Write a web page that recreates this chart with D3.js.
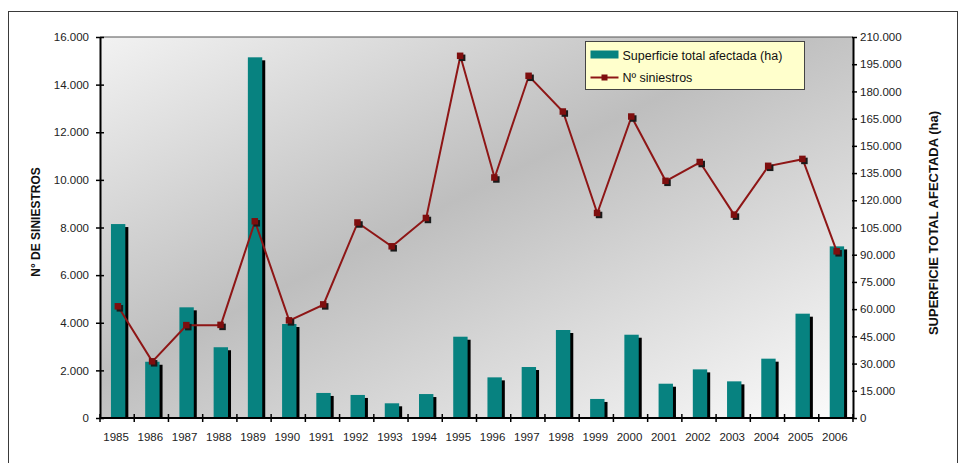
<!DOCTYPE html>
<html>
<head>
<meta charset="utf-8">
<script src="https://cdn.jsdelivr.net/npm/d3@7"></script>
<style>
  body { margin: 0; background: #fff; }
  text { font-family: "Liberation Sans", Arial, sans-serif; }
</style>
</head>
<body>
<svg id="chart" width="970" height="463"></svg>
<script>
// data
const years = ["1985", "1986", "1987", "1988", "1989", "1990", "1991", "1992", "1993", "1994", "1995",
    "1996", "1997", "1998", "1999", "2000", "2001", "2002", "2003", "2004", "2005", "2006"];
// superficie total afectada (ha) -> right axis, bars
const superficie = [106900, 31000, 61000, 39000, 198800, 51800, 13800, 12700, 8100, 13200, 44800,
    22400, 28100, 48500, 10500, 45900, 18900, 26800, 20200, 32700, 57500, 94600];
// nº siniestros -> left axis, line
const siniestros = [4680, 2370, 3890, 3900, 8250, 4090, 4760, 8200, 7200, 8390, 15200,
    10090, 14360, 12860, 8600, 12650, 9950, 10740, 8530, 10580, 10870, 6990];
const leftTicks = [0, 2000, 4000, 6000, 8000, 10000, 12000, 14000, 16000];
const rightTicks = [0, 15000, 30000, 45000, 60000, 75000, 90000, 105000, 120000, 135000,
    150000, 165000, 180000, 195000, 210000];

const svg = d3.select("#chart");
const pLeft = 100, pRight = 853, pTop = 37, pBottom = 418;

const loc = d3.formatLocale({ decimal: ",", thousands: ".", grouping: [3], currency: ["", ""] });
const fmt = loc.format(",d");

const x = d3.scaleBand().domain(years).range([pLeft, pRight]).padding(0);
const yL = d3.scaleLinear().domain([0, 16000]).range([pBottom, pTop]);
const yR = d3.scaleLinear().domain([0, 210000]).range([pBottom, pTop]);

// background gradient of the plot area
const defs = svg.append("defs");
const grad = defs.append("linearGradient").attr("id", "bg")
    .attr("x1", 0).attr("y1", 0).attr("x2", 1).attr("y2", 1);
grad.append("stop").attr("offset", 0).attr("stop-color", "#f2f2f2");
grad.append("stop").attr("offset", 0.45).attr("stop-color", "#bebebe");
grad.append("stop").attr("offset", 1).attr("stop-color", "#fcfcfc");

// outer frame
svg.append("rect").attr("x", 8.5).attr("y", 11.5).attr("width", 949).attr("height", 480)
    .attr("fill", "#fff").attr("stroke", "#3a3a3a").attr("stroke-width", 1);

svg.append("rect").attr("x", pLeft).attr("y", pTop).attr("width", pRight - pLeft).attr("height", pBottom - pTop)
    .attr("fill", "url(#bg)");
svg.append("line").attr("x1", pLeft).attr("x2", pRight).attr("y1", pTop).attr("y2", pTop)
    .attr("stroke", "#555").attr("stroke-width", 1.2);

// bars with black shadow
const bw = x.bandwidth() * 0.42;
const bars = svg.append("g");
bars.selectAll("rect.sh").data(years).enter().append("rect")
    .attr("class", "sh")
    .attr("x", (d, i) => x(d) + x.bandwidth() * 0.32 + 3)
    .attr("y", (d, i) => yR(superficie[i]) + 3)
    .attr("width", bw)
    .attr("height", (d, i) => pBottom - yR(superficie[i]) - 3)
    .attr("fill", "#000");
bars.selectAll("rect.bar").data(years).enter().append("rect")
    .attr("class", "bar")
    .attr("x", (d, i) => x(d) + x.bandwidth() * 0.32)
    .attr("y", (d, i) => yR(superficie[i]))
    .attr("width", bw)
    .attr("height", (d, i) => pBottom - yR(superficie[i]))
    .attr("fill", "#078280");

// axes
const axisL = d3.axisLeft(yL).tickValues(leftTicks).tickFormat(fmt).tickSizeInner(4).tickSizeOuter(0).tickPadding(7);
const gL = svg.append("g").attr("transform", `translate(${pLeft},0)`).call(axisL);
const axisR = d3.axisRight(yR).tickValues(rightTicks).tickFormat(fmt).tickSizeInner(4).tickSizeOuter(0).tickPadding(3);
const gR = svg.append("g").attr("transform", `translate(${pRight},0)`).call(axisR);
[gL, gR].forEach(g => {
    g.select(".domain").attr("stroke", "#000").attr("stroke-width", 2);
    g.selectAll(".tick line").attr("stroke", "#000").attr("stroke-width", 1.5);
    g.selectAll(".tick text").attr("font-size", 11.5).attr("fill", "#222")
        .style("font-family", "'Liberation Sans', Arial, sans-serif");
});
gL.selectAll(".tick line").attr("x1", 4);
gR.selectAll(".tick line").attr("x1", -1);

// x axis: ticks between categories, labels centred
const gX = svg.append("g");
gX.append("line").attr("x1", pLeft).attr("x2", pRight).attr("y1", pBottom).attr("y2", pBottom)
    .attr("stroke", "#000").attr("stroke-width", 2);
const edges = years.map(d => x(d)).concat([pRight]);
gX.selectAll("line.t").data(edges).enter().append("line")
    .attr("x1", d => d).attr("x2", d => d).attr("y1", pBottom - 4).attr("y2", pBottom + 4)
    .attr("stroke", "#000").attr("stroke-width", 1.5);
gX.selectAll("text").data(years).enter().append("text")
    .attr("x", d => x(d) + x.bandwidth() / 2 - 1)
    .attr("y", pBottom + 23)
    .attr("text-anchor", "middle")
    .attr("font-size", 11.5).attr("fill", "#222")
    .text(d => d);

// line for siniestros
const cx = d => x(d) + x.bandwidth() / 2 + 1;
const line = d3.line().x((d, i) => cx(years[i])).y(d => yL(d));
svg.append("path").datum(siniestros).attr("d", line)
    .attr("fill", "none").attr("stroke", "#8e1616").attr("stroke-width", 2);
svg.append("g").selectAll("rect.msh").data(siniestros).enter().append("rect")
    .attr("x", (d, i) => cx(years[i]) - 3 + 1.5).attr("y", d => yL(d) - 3 + 1.5)
    .attr("width", 6.5).attr("height", 6.5).attr("fill", "#1a1a1a");
svg.append("g").selectAll("rect.m").data(siniestros).enter().append("rect")
    .attr("x", (d, i) => cx(years[i]) - 3.5).attr("y", d => yL(d) - 3.5)
    .attr("width", 6.5).attr("height", 6.5).attr("fill", "#7e0e0e");

// axis titles
svg.append("text")
    .attr("transform", "translate(40,222) rotate(-90)")
    .attr("text-anchor", "middle").attr("font-size", 12).attr("font-weight", "bold").attr("fill", "#111")
    .text("N° DE SINIESTROS");
svg.append("text")
    .attr("transform", "translate(938,223) rotate(-90)")
    .attr("text-anchor", "middle").attr("font-size", 13).attr("font-weight", "bold").attr("fill", "#111")
    .text("SUPERFICIE TOTAL AFECTADA (ha)");

// legend
const lg = svg.append("g").attr("transform", "translate(585.5,41.5)");
lg.append("rect").attr("width", 219).attr("height", 48)
    .attr("fill", "#ffffcc").attr("stroke", "#444").attr("stroke-width", 1);
lg.append("rect").attr("x", 5).attr("y", 9).attr("width", 28).attr("height", 8).attr("fill", "#078280");
lg.append("line").attr("x1", 5).attr("x2", 33).attr("y1", 36).attr("y2", 36)
    .attr("stroke", "#8e1616").attr("stroke-width", 2);
lg.append("rect").attr("x", 16).attr("y", 33).attr("width", 6).attr("height", 6).attr("fill", "#7e0e0e");
lg.append("text").attr("x", 37).attr("y", 18).attr("font-size", 12.5).attr("fill", "#111")
    .text("Superficie total afectada (ha)");
lg.append("text").attr("x", 37).attr("y", 40).attr("font-size", 12.5).attr("fill", "#111")
    .text("Nº siniestros");
</script>
</body>
</html>
